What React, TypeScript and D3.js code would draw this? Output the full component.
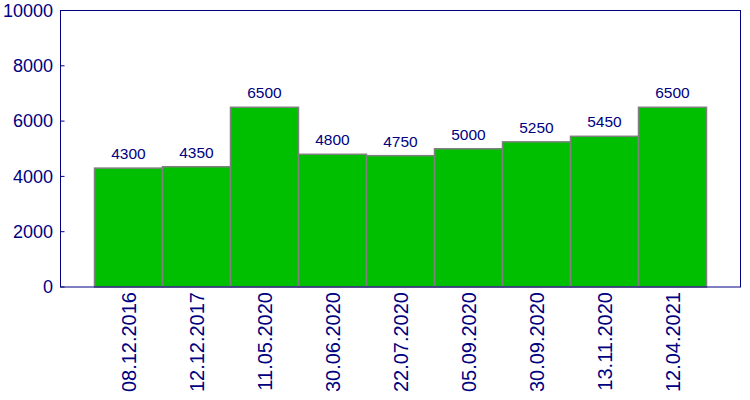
import React from "react";
import * as d3 from "d3";

const categories = ["08.12.2016", "12.12.2017", "11.05.2020", "30.06.2020", "22.07.2020", "05.09.2020", "30.09.2020", "13.11.2020", "12.04.2021"];
const values = [4300, 4350, 6500, 4800, 4750, 5000, 5250, 5450, 6500];
const yTicks = [0, 2000, 4000, 6000, 8000, 10000];

const W = 750, H = 400;
const left = 60.5, right = 740.5, top = 10.5, bottom = 287;
const NAVY = "#000080";

export default function App() {
  const slot = (right - left) / (categories.length + 1);
  const x = (i: number) => left + slot * (i + 1);
  const y = d3.scaleLinear().domain([0, 10000]).range([bottom, top]);
  return (
    <svg width={W} height={H} style={{ position: "absolute", left: 0, top: 0 }} fontFamily="'Liberation Sans', Arial, sans-serif">
      <rect x={0} y={0} width={W} height={H} fill="white" />
      {values.map((v, i) => (
        <g key={i}>
          <rect x={x(i) - slot / 2} y={y(v)} width={slot} height={bottom - y(v)} fill="#00bf00" stroke="#808080" strokeWidth={1.5} />
          <text x={x(i)} y={y(v) - 9} textAnchor="middle" fontSize={15.5} fill={NAVY}>{v}</text>
          <text transform={`translate(${x(i) + 7},${bottom + 5}) rotate(-90)`} textAnchor="end" fontSize={20} fill={NAVY}>{categories[i]}</text>
        </g>
      ))}
      <rect x={left} y={top} width={right - left} height={bottom - top} fill="none" stroke={NAVY} strokeWidth={1} />
      {yTicks.map((t) => (
        <g key={t}>
          <line x1={left} x2={left + 4} y1={y(t)} y2={y(t)} stroke={NAVY} />
          <text x={53} y={y(t)} dy="0.35em" textAnchor="end" fontSize={18} fill={NAVY}>{t}</text>
        </g>
      ))}
    </svg>
  );
}
